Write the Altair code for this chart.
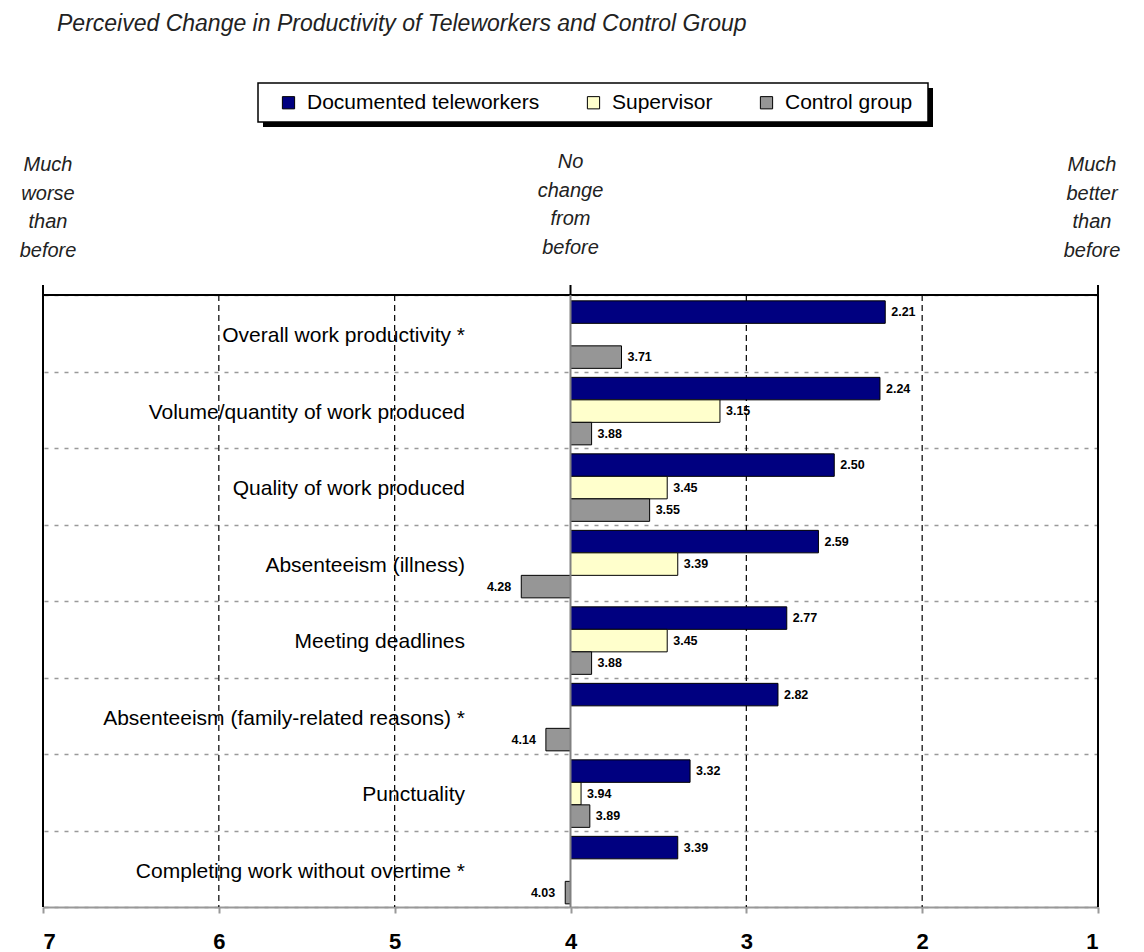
import altair as alt
import pandas as pd

# ---- data ----
categories = [
    "Overall work productivity *",
    "Volume/quantity of work produced",
    "Quality of work produced",
    "Absenteeism (illness)",
    "Meeting deadlines",
    "Absenteeism (family-related reasons) *",
    "Punctuality",
    "Completing work without overtime *",
]
series_names = ["Documented teleworkers", "Supervisor", "Control group"]
teleworkers = [2.21, 2.24, 2.50, 2.59, 2.77, 2.82, 3.32, 3.39]
supervisor = [None, 3.15, 3.45, 3.39, 3.45, None, 3.94, None]
control = [3.71, 3.88, 3.55, 4.28, 3.88, 4.14, 3.89, 4.03]
series_colors = ["#000080", "#FFFFCC", "#969696"]

x_ticks = [7, 6, 5, 4, 3, 2, 1]
grid_values = [6, 5, 3, 2]
top_tick_values = [7, 4, 1]
annot_positions = [7, 4, 1]
annot_lines = [
    ["Much", "worse", "than", "before"],
    ["No", "change", "from", "before"],
    ["Much", "better", "than", "before"],
]
title_text = "Perceived Change in Productivity of Teleworkers and Control Group"

rows = []
for i, c in enumerate(categories):
    for s, vals in zip(series_names, [teleworkers, supervisor, control]):
        if vals[i] is not None:
            rows.append({"category": c, "series": s, "value": vals[i]})
df = pd.DataFrame(rows)
df["label"] = df["value"].map(lambda v: f"{v:.2f}")

FONT = "Liberation Sans"
W, H = 1055, 612

xscale = alt.Scale(domain=[1, 7], reverse=True, nice=False, zero=False)
y_enc = alt.Y(
    "category:N",
    sort=categories,
    scale=alt.Scale(paddingInner=0, paddingOuter=0),
    axis=alt.Axis(labels=False, ticks=False, domain=False, grid=True,
                  tickBand="extent", gridDash=[4, 6], gridColor="#999999",
                  gridWidth=1.5, title=None),
)
yoff_enc = alt.YOffset("series:N", sort=series_names,
                       scale=alt.Scale(domain=series_names, paddingInner=0,
                                       paddingOuter=0.2, align=0.65))

base = alt.Chart(df)

bars = base.mark_bar(stroke="black", strokeWidth=1).encode(
    x=alt.X("value:Q", scale=xscale,
            axis=alt.Axis(values=x_ticks, grid=False, title=None,
                          labelFont=FONT, labelFontSize=22, labelFontWeight="bold",
                          labelColor="black", tickColor="#999999", tickSize=6,
                          tickWidth=2, domainColor="#999999", domainWidth=2,
                          labelPadding=18, format="d")),
    x2=alt.datum(4),
    y=y_enc,
    yOffset=yoff_enc,
    fill=alt.Fill("series:N", sort=series_names,
                  scale=alt.Scale(domain=series_names, range=series_colors),
                  legend=alt.Legend(orient="none", direction="horizontal",
                                    legendX=235, legendY=-203, title=None,
                                    symbolType="square", symbolSize=150,
                                    symbolStrokeColor="black", symbolStrokeWidth=1,
                                    symbolOpacity=1,
                                    labelFont=FONT, labelFontSize=21,
                                    labelColor="black", labelLimit=400,
                                    labelOffset=8, columnPadding=43, padding=0)),
)

labels_right = base.transform_filter("datum.value < 4").mark_text(
    align="left", baseline="middle", dx=6, font=FONT, fontSize=12.5,
    fontWeight="bold", color="black").encode(
    x=alt.X("value:Q", scale=xscale), y=y_enc, yOffset=yoff_enc, text="label:N")

labels_left = base.transform_filter("datum.value > 4").mark_text(
    align="right", baseline="middle", dx=-10, font=FONT, fontSize=12.5,
    fontWeight="bold", color="black").encode(
    x=alt.X("value:Q", scale=xscale), y=y_enc, yOffset=yoff_enc, text="label:N")

cat_df = pd.DataFrame({"category": categories})
cat_labels = alt.Chart(cat_df).mark_text(
    align="right", baseline="middle", dy=3, font=FONT, fontSize=21,
    color="black").encode(x=alt.datum(4.6), y=y_enc, text="category:N")

grid_df = pd.DataFrame({"v": grid_values})
vgrid = alt.Chart(grid_df).mark_rule(color="black", strokeDash=[6, 4],
                                     strokeWidth=1.2).encode(x=alt.X("v:Q", scale=xscale))

zero_line = alt.Chart(pd.DataFrame({"v": [4]})).mark_rule(
    color="#808080", strokeWidth=2).encode(x=alt.X("v:Q", scale=xscale))

border_df = pd.DataFrame({"v": [7, 1]})
borders = alt.Chart(border_df).mark_rule(color="black", strokeWidth=2).encode(
    x=alt.X("v:Q", scale=xscale))

top_line = alt.Chart(pd.DataFrame({"a": [7], "b": [1]})).mark_rule(
    color="black", strokeWidth=2).encode(
    x=alt.X("a:Q", scale=xscale), x2="b:Q", y=alt.value(0))

top_ticks = alt.Chart(pd.DataFrame({"v": top_tick_values})).mark_rule(
    color="black", strokeWidth=2).encode(
    x=alt.X("v:Q", scale=xscale), y=alt.value(-10), y2=alt.value(0))

annot_df = pd.DataFrame({"pos": annot_positions, "lines": annot_lines})
annot_style = dict(align="center", baseline="top", font=FONT, fontSize=20,
                   fontStyle="italic", lineHeight=28.5, color="#222222")
annot_left = alt.Chart(annot_df).transform_filter("datum.pos == 7").mark_text(
    dx=5, **annot_style).encode(x=alt.X("pos:Q", scale=xscale),
                                y=alt.value(-140), text="lines")
annot_mid = alt.Chart(annot_df).transform_filter("datum.pos == 4").mark_text(
    **annot_style).encode(x=alt.X("pos:Q", scale=xscale),
                          y=alt.value(-143), text="lines")
annot_right = alt.Chart(annot_df).transform_filter("datum.pos == 1").mark_text(
    dx=-6, **annot_style).encode(x=alt.X("pos:Q", scale=xscale),
                                 y=alt.value(-140), text="lines")

one = pd.DataFrame({"a": [0]})
title_mark = alt.Chart(pd.DataFrame({"t": [title_text]})).mark_text(
    align="left", baseline="alphabetic", font=FONT, fontSize=23,
    fontStyle="italic", color="#222222").encode(
    x=alt.value(14), y=alt.value(-264), text="t:N")

legend_shadow = alt.Chart(one).mark_rect(color="black").encode(
    x=alt.value(220), x2=alt.value(890), y=alt.value(-207), y2=alt.value(-168))
legend_box = alt.Chart(one).mark_rect(fill="white", stroke="black",
                                      strokeWidth=1.5).encode(
    x=alt.value(215), x2=alt.value(885), y=alt.value(-212), y2=alt.value(-173))

chart = alt.layer(
    title_mark, legend_shadow, legend_box, annot_left, annot_mid, annot_right,
    vgrid, borders, top_line, top_ticks,
    cat_labels, bars, zero_line, labels_right, labels_left,
).properties(
    width=W, height=H,
    autosize=alt.AutoSizeParams(type="none"),
    padding={"left": 43, "top": 295, "right": 46, "bottom": 45},
).configure_view(stroke="transparent").configure(background="white")

chart.save("out.html", embed_options={"renderer": "svg", "actions": False})
